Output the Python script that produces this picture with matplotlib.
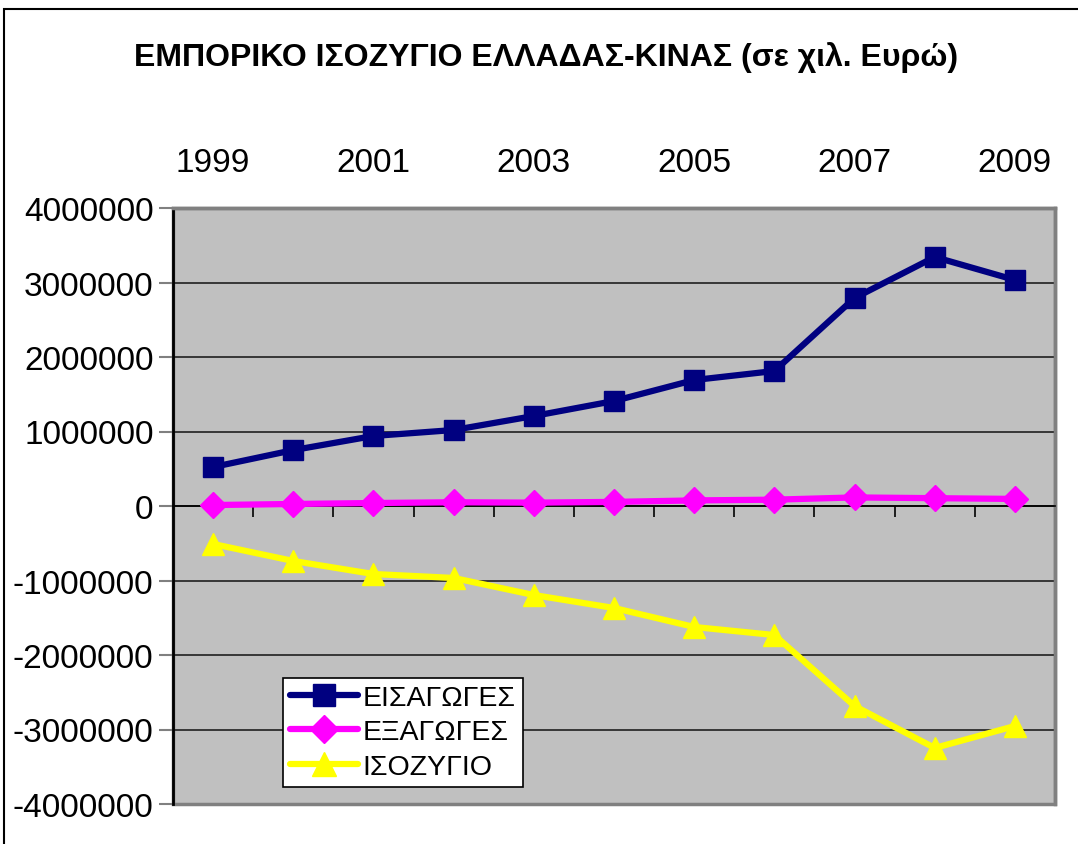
import matplotlib
matplotlib.use("Agg")
import matplotlib.pyplot as plt
from matplotlib.patches import Rectangle
import numpy as np

plt.rcParams['font.family'] = ['Liberation Sans', 'DejaVu Sans']

years = [1999, 2000, 2001, 2002, 2003, 2004, 2005, 2006, 2007, 2008, 2009]
imports = [523000, 750000, 940000, 1020000, 1208000, 1409000, 1691000, 1812000, 2792000, 3342000, 3034000]
exports = [13000, 27000, 40000, 50000, 45000, 55000, 75000, 85000, 115000, 105000, 95000]
balance = [-510000, -738000, -913000, -966000, -1195000, -1369000, -1624000, -1732000, -2685000, -3248000, -2953000]
labels = ['ΕΙΣΑΓΩΓΕΣ', 'ΕΞΑΓΩΓΕΣ', 'ΙΣΟΖΥΓΙΟ']
title = 'ΕΜΠΟΡΙΚΟ ΙΣΟΖΥΓΙΟ ΕΛΛΑΔΑΣ-ΚΙΝΑΣ (σε χιλ. Ευρώ)'

fig = plt.figure(figsize=(10.78, 8.45), dpi=100)
ax = fig.add_axes([173/1078, 1-805/845, (1055-173)/1078, (805-209)/845])

# figure border (left & top visible)
fig.patches.append(Rectangle((3.5/1078, -0.05), 1.1, 1 - 10/845 + 0.05,
                             transform=fig.transFigure, fill=False,
                             edgecolor='black', linewidth=1.5))

ax.set_facecolor('#C0C0C0')
x = np.arange(len(years))
ax.set_xlim(-0.5, len(years) - 0.5)
ax.set_ylim(-4000000, 4000000)
yt = np.arange(-4000000, 4000001, 1000000)
ax.set_yticks(yt)
ax.set_yticklabels([str(v) for v in yt])
for v in yt[1:-1]:
    ax.axhline(v, color='#202020', linewidth=1.2, zorder=1)

ax.plot(x, imports, color='#000080', linewidth=4.5, marker='s', markersize=15,
        label=labels[0], zorder=3, solid_capstyle='round')
ax.plot(x, exports, color='#FF00FF', linewidth=4.5, marker='D', markersize=13,
        label=labels[1], zorder=3, solid_capstyle='round')
ax.plot(x, balance, color='#FFFF00', linewidth=4.5, marker='^', markersize=16,
        label=labels[2], zorder=3, solid_capstyle='round')

# category axis at zero, labels at top
ax.spines['bottom'].set_position(('data', 0))
ax.spines['bottom'].set_color('black')
ax.spines['bottom'].set_linewidth(1.2)
ax.spines['top'].set_color('#808080')
ax.spines['top'].set_linewidth(2.5)
ax.spines['right'].set_color('#808080')
ax.spines['right'].set_linewidth(2.5)
ax.spines['left'].set_color('black')
ax.spines['left'].set_linewidth(2)
ax.patch.set_edgecolor('#808080')
ax.patch.set_linewidth(2.5)

ax.set_xticks(x[::2])
ax.set_xticklabels([str(y) for y in years[::2]])
ax.set_xticks(x[:-1] + 0.5, minor=True)
ax.tick_params(axis='x', which='major', bottom=False, top=True, length=0,
               labelbottom=False, labeltop=True, labelsize=24, pad=33)
ax.tick_params(axis='x', which='minor', bottom=True, top=False, length=8,
               width=1.2, direction='out', color='black')
ax.tick_params(axis='y', which='major', length=10, width=1.5, color='#808080',
               labelsize=24, pad=4)
for lab in ax.get_xticklabels():
    lab.set_verticalalignment('center')

fig.text(0.507, 1-58/845, title, ha='center', va='center', fontsize=23,
         fontweight='bold')

leg = ax.legend(loc='lower left', bbox_to_anchor=((283-173)/882, (805-788)/596),
                fontsize=20.5, frameon=True, fancybox=False, edgecolor='black',
                framealpha=1, handlelength=2.4, borderpad=0.25, labelspacing=0.3,
                handletextpad=0.15, borderaxespad=0, markerscale=1.1)
leg.get_frame().set_linewidth(1.2)

fig.savefig('out.png', dpi=100)
